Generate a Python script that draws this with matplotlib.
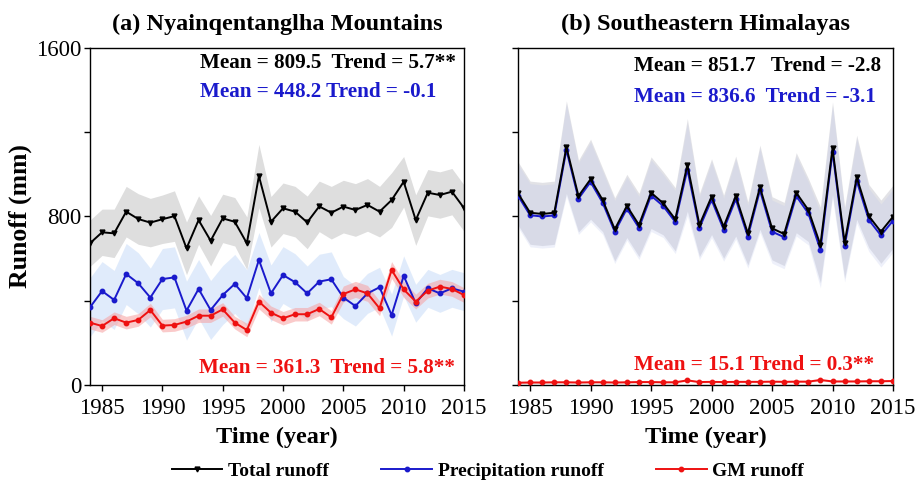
import matplotlib
matplotlib.use("Agg")
import matplotlib.pyplot as plt
import numpy as np
from matplotlib.lines import Line2D

years = list(range(1984, 2016))

# Panel (a) Nyainqentanglha Mountains
a_total = [673, 725, 720, 823, 788, 771, 787, 802, 649, 783, 685, 791, 775, 673, 992, 775,
           839, 823, 772, 848, 818, 847, 831, 855, 823, 878, 965, 783, 913, 902, 918, 840]
a_precip = [369, 446, 404, 527, 483, 415, 503, 511, 353, 456, 356, 427, 480, 412, 594, 435,
            522, 488, 435, 491, 502, 415, 375, 435, 464, 332, 518, 388, 459, 435, 459, 443]
a_gm = [296, 280, 317, 296, 309, 356, 282, 285, 301, 329, 329, 359, 296, 261, 396, 343,
        317, 336, 336, 361, 321, 432, 454, 435, 364, 546, 454, 396, 448, 467, 456, 427]
a_total_hw = [110, 110, 115, 120, 120, 115, 115, 120, 125, 115, 120, 115, 115, 125, 150, 120,
              120, 120, 125, 120, 125, 125, 125, 125, 120, 130, 120, 120, 110, 110, 110, 110]
a_precip_hw = [140, 140, 140, 145, 145, 140, 145, 145, 140, 140, 140, 140, 140, 135, 130, 135,
               135, 135, 130, 130, 130, 100, 95, 95, 95, 100, 95, 90, 90, 90, 90, 90]
a_gm_hw = [30, 30, 30, 30, 30, 32, 30, 30, 30, 32, 32, 32, 30, 32, 35, 32,
           32, 32, 32, 32, 32, 38, 38, 38, 35, 40, 38, 35, 35, 35, 35, 35]

# Panel (b) Southeastern Himalayas
b_total = [910, 818, 812, 818, 1129, 897, 977, 878, 739, 850, 760, 913, 863, 787, 1045, 760,
           894, 752, 897, 720, 939, 744, 717, 913, 831, 665, 1124, 676, 986, 802, 728, 799]
b_precip = [899, 806, 800, 805, 1116, 885, 964, 865, 727, 837, 746, 899, 850, 774, 1023, 746,
            879, 738, 882, 705, 924, 728, 702, 897, 815, 641, 1107, 659, 969, 784, 710, 780]
b_gm = [11, 12, 12, 13, 13, 12, 13, 13, 12, 13, 14, 14, 13, 13, 22, 14,
        15, 14, 15, 15, 15, 16, 15, 16, 16, 24, 17, 17, 17, 18, 18, 19]
b_hw = [150, 150, 150, 150, 220, 170, 190, 150, 150, 150, 150, 170, 150, 150, 220, 150,
        180, 150, 190, 150, 200, 150, 150, 190, 150, 180, 220, 170, 200, 150, 150, 150]
b_gm_hw = [4] * 32

titles = ["(a) Nyainqentanglha Mountains", "(b) Southeastern Himalayas"]
yticks_major = [0, 800, 1600]
yticks_minor = [400, 1200]
xticks = [1985, 1990, 1995, 2000, 2005, 2010, 2015]
legend_labels = ["Total runoff", "Precipitation runoff", "GM runoff"]

SERIF = ["Liberation Serif", "DejaVu Serif"]
plt.rcParams["font.family"] = SERIF

C_BLACK = "black"
C_BLUE = "#1a1acc"
C_RED = "#ee1111"

fig = plt.figure(figsize=(9.17, 4.86), dpi=100)
ax_a = fig.add_axes([90 / 917, 101 / 486, 374 / 917, 337 / 486])
ax_b = fig.add_axes([518 / 917, 101 / 486, 375 / 917, 337 / 486])

yrs = np.array(years)


def band(ax, vals, hw, color, alpha):
    v = np.array(vals, dtype=float)
    h = np.array(hw, dtype=float)
    ax.fill_between(yrs, v - h, v + h, color=color, alpha=alpha, lw=0, zorder=1)


# Panel a
band(ax_a, a_total, a_total_hw, "#c8c8c8", 0.6)
band(ax_a, a_precip, a_precip_hw, "#c8dcf8", 0.55)
band(ax_a, a_gm, a_gm_hw, "#f7a0a0", 0.55)
ax_a.plot(yrs, a_total, color=C_BLACK, lw=1.4, marker="v", ms=3.5, zorder=3)
ax_a.plot(yrs, a_precip, color=C_BLUE, lw=1.4, marker="o", ms=3.2, zorder=3)
ax_a.plot(yrs, a_gm, color=C_RED, lw=1.4, marker="o", ms=3.2, zorder=4)

# Panel b
band(ax_b, b_total, b_hw, "#c6c6ce", 0.5)
band(ax_b, b_precip, b_hw, "#bcc6ec", 0.25)
band(ax_b, b_gm, b_gm_hw, "#f7a0a0", 0.55)
ax_b.plot(yrs, b_precip, color=C_BLUE, lw=1.4, marker="o", ms=3.2, zorder=3)
ax_b.plot(yrs, b_total, color=C_BLACK, lw=1.4, marker="v", ms=3.5, zorder=4)
ax_b.plot(yrs, b_gm, color=C_RED, lw=1.4, marker="o", ms=3.2, zorder=5)

for i, ax in enumerate([ax_a, ax_b]):
    ax.set_xlim(1984, 2015)
    ax.set_ylim(0, 1600)
    ax.set_xticks(xticks)
    ax.set_yticks(yticks_major)
    ax.set_yticks(yticks_minor, minor=True)
    ax.tick_params(axis="both", which="both", direction="out", length=4, width=1,
                   labelsize=16.5, top=False, right=False, pad=2)
    ax.tick_params(axis="x", which="both", pad=5)
    ax.tick_params(axis="x", which="minor", bottom=False)
    for sp in ax.spines.values():
        sp.set_linewidth(1.0)
    ax.set_title(titles[i], fontsize=17.5, fontweight="bold", pad=13)
    ax.set_xlabel("Time (year)", fontsize=17.5, fontweight="bold", labelpad=6)

ax_a.set_ylabel("Runoff (mm)", fontsize=18.5, fontweight="bold", labelpad=3)
ax_b.set_yticklabels([])

# Annotations
FS = 15.2
ax_a.text(0.979, 0.955, "Mean = 809.5  Trend = 5.7**", color=C_BLACK, ha="right", va="center",
          fontsize=FS, fontweight="bold", transform=ax_a.transAxes)
ax_a.text(0.294, 0.869, "Mean = 448.2 Trend = -0.1", color=C_BLUE, ha="left", va="center",
          fontsize=FS, fontweight="bold", transform=ax_a.transAxes)
ax_a.text(0.976, 0.05, "Mean = 361.3  Trend = 5.8**", color=C_RED, ha="right", va="center",
          fontsize=FS, fontweight="bold", transform=ax_a.transAxes)

ax_b.text(0.309, 0.947, "Mean = 851.7   Trend = -2.8", color=C_BLACK, ha="left", va="center",
          fontsize=FS, fontweight="bold", transform=ax_b.transAxes)
ax_b.text(0.309, 0.855, "Mean = 836.6  Trend = -3.1", color=C_BLUE, ha="left", va="center",
          fontsize=FS, fontweight="bold", transform=ax_b.transAxes)
ax_b.text(0.309, 0.059, "Mean = 15.1 Trend = 0.3**", color=C_RED, ha="left", va="center",
          fontsize=FS, fontweight="bold", transform=ax_b.transAxes)

# Legend
handles = [
    Line2D([], [], color=C_BLACK, lw=1.4, marker="v", ms=3.5),
    Line2D([], [], color=C_BLUE, lw=1.4, marker="o", ms=3.2),
    Line2D([], [], color=C_RED, lw=1.4, marker="o", ms=3.2),
]
fig.legend(handles, legend_labels, loc="center", bbox_to_anchor=(0.532, 1 - 471 / 486), ncol=3,
           frameon=False, prop={"family": SERIF, "weight": "bold", "size": 14},
           handlelength=2.6, handletextpad=0.3, columnspacing=2.7)

fig.savefig("out.png", dpi=100)
